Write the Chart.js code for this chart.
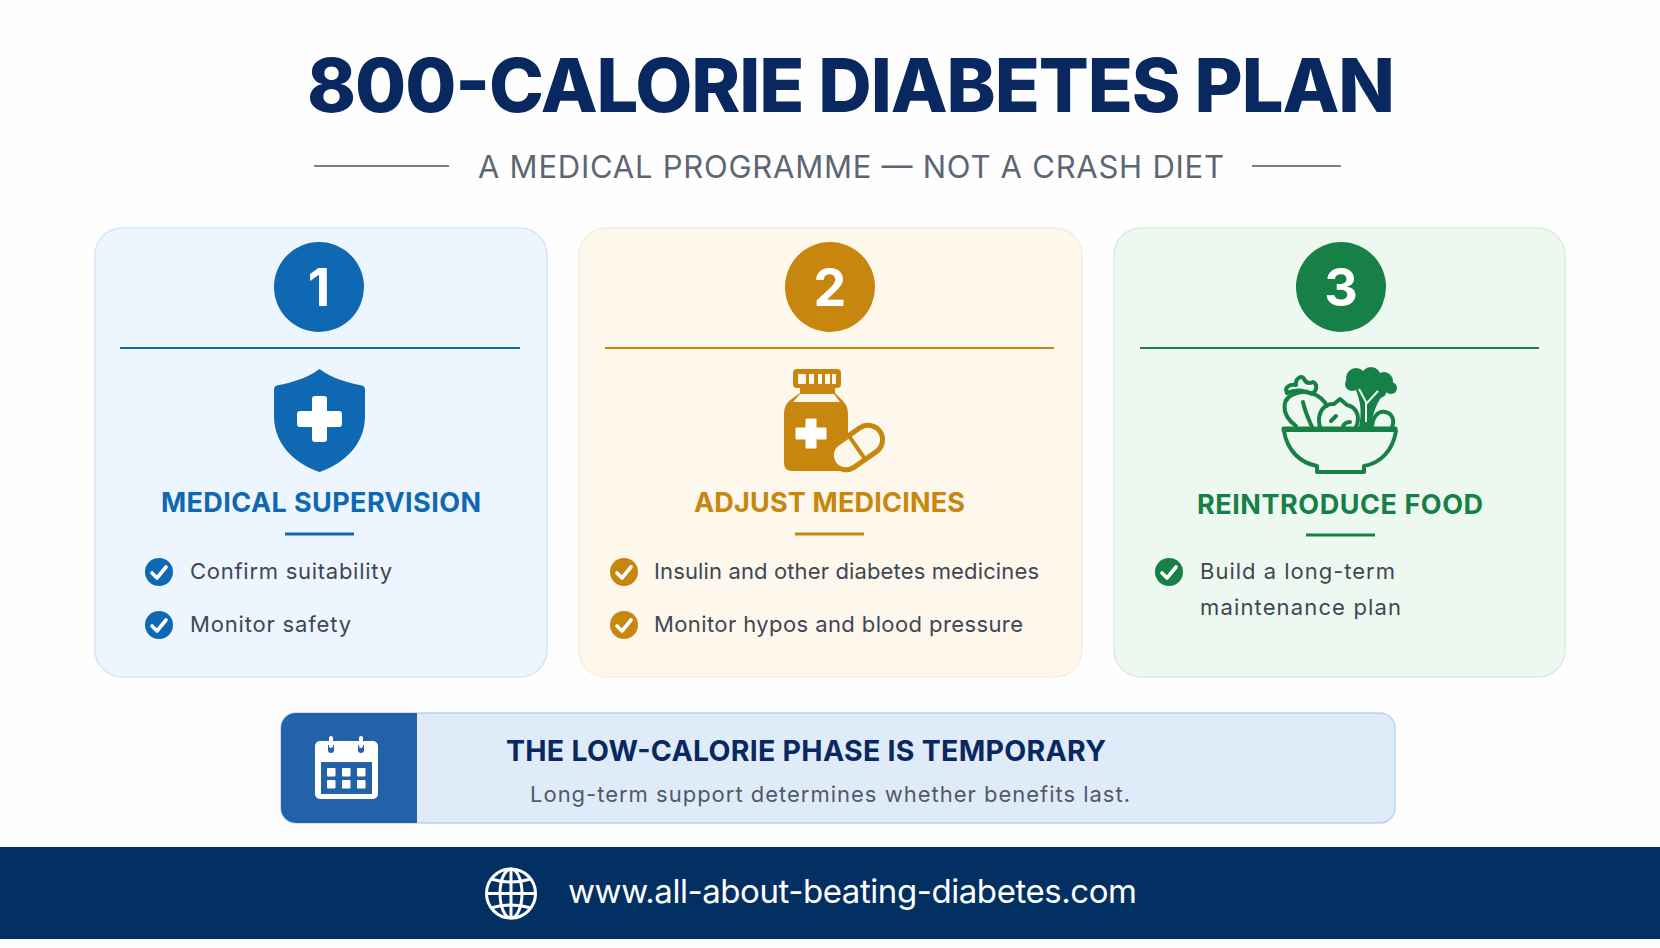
<!DOCTYPE html>
<html lang="en">
<head>
<meta charset="utf-8">
<title>800-Calorie Diabetes Plan</title>
<script src="https://cdn.jsdelivr.net/npm/chart.js@4"></script>
<style>
    html, body { margin: 0; padding: 0; background: #fefefe; }
    #page { position: relative; width: 1660px; height: 948px; overflow: hidden; font-family: Inter, sans-serif; }
    #art, #chartPasos { position: absolute; left: 0; top: 0; }
    #chartPasos { pointer-events: none; }
</style>
</head>
<body>
<div id="page">
    <svg id="art" width="1660" height="948" viewBox="0 0 1660 948" xmlns="http://www.w3.org/2000/svg"></svg>
    <canvas id="chartPasos" width="1660" height="948"></canvas>
</div>
<script>
// =========================================================================
// CONTENT
// =========================================================================
const pageTitle = '800-CALORIE DIABETES PLAN';
const pageSubtitle = 'A MEDICAL PROGRAMME — NOT A CRASH DIET';
const stepNumbers = ['1', '2', '3'];
const stepRow = [1, 1, 1];
const stepTitles = ['MEDICAL SUPERVISION', 'ADJUST MEDICINES', 'REINTRODUCE FOOD'];
const stepItems = [
    ['Confirm suitability', 'Monitor safety'],
    ['Insulin and other diabetes medicines', 'Monitor hypos and blood pressure'],
    ['Build a long-term', 'maintenance plan']
];
const bannerTitle = 'THE LOW-CALORIE PHASE IS TEMPORARY';
const bannerText = 'Long-term support determines whether benefits last.';
const footerUrl = 'www.all-about-beating-diabetes.com';

// =========================================================================
// STYLE AND LAYOUT
// =========================================================================
const NAVY = '#0a2860';
const stepColors = ['#0f68b2', '#c7860e', '#178046'];
const cardFills = ['#edf5fe', '#fef7ec', '#edf8f1'];
const cardBorders = ['#d6e5f7', '#f8ecdb', '#d9ecdf'];

const cards = [
    { left: 95, right: 547, cx: 319, ruleL: 120, ruleR: 520, titleX: 161, titleW: 320, titleY: 512, shortY: 534, checkX: 159, textX: 190, widths: [202, 161], checks: [572, 625], lines: [579, 632] },
    { left: 579, right: 1082, cx: 829, ruleL: 605, ruleR: 1054, titleX: 694, titleW: 271, titleY: 512, shortY: 534, checkX: 624, textX: 654, widths: [385, 369], checks: [572, 625], lines: [579, 632] },
    { left: 1114, right: 1565, cx: 1340, ruleL: 1140, ruleR: 1539, titleX: 1197, titleW: 286, titleY: 514, shortY: 535, checkX: 1169, textX: 1200, widths: [195, 201], checks: [572], lines: [579, 615] }
];

// =========================================================================
// SVG HELPERS
// =========================================================================
function texto(str, x, y, size, weight, fill, width) {
    return `<text x="${x}" y="${y}" font-family="Inter, sans-serif" font-size="${size}" font-weight="${weight}" fill="${fill}" textLength="${width}" lengthAdjust="spacing">${str}</text>`;
}

function check(cx, cy, color) {
    return `<circle cx="${cx}" cy="${cy}" r="14" fill="${color}"/>` +
        `<polyline points="${cx - 7},${cy + 1} ${cx - 2},${cy + 6} ${cx + 7},${cy - 5}" fill="none" stroke="#fff" stroke-width="3.6" stroke-linecap="round" stroke-linejoin="round"/>`;
}

function iconShield(c) {
    return `<path d="M319.5 369 C333 379 349 383 362 385.5 Q365 386 365 390 L365 416 C365 444 345 463 319.5 472 C294 463 274 444 274 416 L274 390 Q274 386 277 385.5 C290 383 306 379 319.5 369 Z" fill="${c}"/>` +
        `<path d="M312 399 Q312 396 315 396 L324 396 Q327 396 327 399 L327 411 L339 411 Q342 411 342 414 L342 424 Q342 427 339 427 L327 427 L327 439 Q327 442 324 442 L315 442 Q312 442 312 439 L312 427 L300 427 Q297 427 297 424 L297 414 Q297 411 300 411 L312 411 Z" fill="#fff"/>`;
}

function iconBottle(c, bg) {
    const slots = [[798, 8], [809, 5], [818, 4], [825, 5], [832, 4]];
    return `<rect x="793" y="369" width="48" height="19" rx="4" fill="${c}"/>` +
        slots.map(s => `<rect x="${s[0]}" y="374" width="${s[1]}" height="10" fill="${bg}"/>`).join('') +
        `<path d="M800 388 H835 V393 L843 401 Q848 406 848 414 V471 H792 Q784 471 784 463 V414 Q784 406 789 401 L800 393 Z" fill="${c}"/>` +
        `<path d="M800 394 H834 L840 402 H793 Z" fill="${bg}"/>` +
        `<path d="M806 419 H816 V428 H826 V439 H816 V448 H806 V439 H796 V428 H806 Z" fill="#fff" stroke="#fff" stroke-width="1" stroke-linejoin="round"/>` +
        `<g transform="translate(857 447.5) rotate(-35)">` +
        `<rect x="-28" y="-14.5" width="56" height="29" rx="14.5" fill="${bg}" stroke="${c}" stroke-width="5"/>` +
        `<line x1="0" y1="-14.5" x2="0" y2="14.5" stroke="${c}" stroke-width="4"/></g>`;
}

function iconBowl(c, bg) {
    const s = `fill="none" stroke="${c}" stroke-width="4" stroke-linecap="round" stroke-linejoin="round"`;
    const crown = [[1356, 378, 10], [1371, 377, 10], [1384, 381, 9], [1391, 388, 6], [1352, 384, 7], [1366, 386, 10], [1379, 390, 8]];
    return `<path d="M1296 426 C1280 414 1281 397 1297 393 C1307 390 1321 394 1327 406" ${s}/>` +
        `<path d="M1303 402 C1305 412 1309 420 1312 427" ${s}/>` +
        `<path d="M1287 393 C1284 387 1290 384 1296 385 C1295 379 1302 374 1304 379 C1306 383 1309 384 1313 382 C1318 384 1317 391 1312 394 C1305 390 1295 389 1287 393 Z" ${s}/>` +
        `<path d="M1320 427 C1316 412 1325 403 1334 404 L1340 399 L1347 405 C1356 407 1361 416 1356 427" ${s}/>` +
        `<path d="M1331 421 L1336 416 M1343 427 C1344 423 1347 422 1350 422" ${s}/>` +
        crown.map(d => `<circle cx="${d[0]}" cy="${d[1]}" r="${d[2]}" fill="${c}"/>`).join('') +
        `<path d="M1359 427 C1362 412 1361 402 1355 388 L1386 392 C1379 398 1373 410 1371 427 Z" fill="${c}"/>` +
        `<path d="M1366 422 L1366 402 L1359 389 M1366 404 L1378 391" fill="none" stroke="${bg}" stroke-width="2"/>` +
        `<path d="M1372 427 C1373 416 1378 411 1385 412 C1392 413 1395 420 1392 427" ${s}/>` +
        `<rect x="1281.5" y="426.5" width="116" height="5.5" rx="2" fill="${c}"/>` +
        `<path d="M1284 431 C1287 450 1300 463 1317 466 L1317 472 H1364 V466 C1381 463 1393 450 1396 431" ${s}/>`;
}

function iconCalendar() {
    const cols = [327, 342, 357];
    const rows = [768, 780];
    let cells = '';
    rows.forEach(y => cols.forEach(x => { cells += `<rect x="${x}" y="${y}" width="8.5" height="8.5" rx="1" fill="#fff"/>`; }));
    return `<rect x="315" y="741" width="63" height="58" rx="5" fill="#fff"/>` +
        `<rect x="321" y="762" width="51" height="32" fill="#2361a9"/>` + cells +
        [331, 361].map(x => `<path d="M${x - 3} 745 V750 A3 3 0 0 0 ${x + 3} 750 V745" fill="#2361a9"/>` +
            `<line x1="${x}" y1="738" x2="${x}" y2="746" stroke="#fff" stroke-width="4" stroke-linecap="round"/>`).join('');
}

function iconGlobe() {
    return `<g fill="none" stroke="#fff" stroke-width="3">` +
        `<circle cx="511" cy="893.5" r="24.5"/><ellipse cx="511" cy="893.5" rx="11" ry="24.5"/>` +
        `<line x1="511" y1="869" x2="511" y2="918"/><line x1="486.5" y1="893.5" x2="535.5" y2="893.5"/>` +
        `<path d="M491 879 Q511 885 531 879 M491 908 Q511 902 531 908"/></g>`;
}

// =========================================================================
// BUILD THE PAGE
// =========================================================================
function pintarLamina() {
    const iconos = [iconShield, iconBottle, iconBowl];
    let svg = `<rect width="1660" height="948" fill="#fefefe"/>`;

    svg += texto(pageTitle, 307, 112, 74, 800, NAVY, 1088);
    svg += `<rect x="314" y="165" width="135" height="2" fill="#78808c"/><rect x="1252" y="165" width="89" height="2" fill="#78808c"/>`;
    svg += texto(pageSubtitle, 478, 178, 31, 400, '#5d6675', 746);

    cards.forEach((c, i) => {
        const color = stepColors[i];
        svg += `<rect x="${c.left}" y="228" width="${c.right - c.left}" height="449" rx="27" fill="${cardFills[i]}" stroke="${cardBorders[i]}" stroke-width="1.5"/>`;
        svg += `<rect x="${c.ruleL}" y="347" width="${c.ruleR - c.ruleL}" height="2" fill="${color}"/>`;
        svg += iconos[i](color, cardFills[i]);
        svg += texto(stepTitles[i], c.titleX, c.titleY, 27, 700, color, c.titleW);
        svg += `<rect x="${c.cx - 34}" y="${c.shortY - 1.5}" width="69" height="3" fill="${color}"/>`;
        c.checks.forEach(y => { svg += check(c.checkX, y, color); });
        stepItems[i].forEach((item, j) => {
            svg += texto(item, c.textX, c.lines[j], 22, 400, '#3f4753', c.widths[j]);
        });
    });

    // banner
    svg += `<rect x="281" y="713" width="1114" height="110" rx="15" fill="#dfebf9" stroke="#bdd3f0" stroke-width="1.5"/>`;
    svg += `<path d="M417 713 V823 H296 A15 15 0 0 1 281 808 V728 A15 15 0 0 1 296 713 Z" fill="#2361a9"/>`;
    svg += iconCalendar();
    svg += texto(bannerTitle, 506, 761, 28.5, 700, NAVY, 600);
    svg += texto(bannerText, 530, 802, 22, 400, '#525a66', 600);

    // footer
    svg += `<rect x="0" y="847" width="1660" height="92" fill="#033063"/>`;
    svg += iconGlobe();
    svg += texto(footerUrl, 568, 903, 33, 400, '#ffffff', 569);

    document.getElementById('art').innerHTML = svg;
}

// =========================================================================
// NUMBERED BADGES (Chart.js)
// =========================================================================
const numerosPlugin = {
    id: 'numeros',
    afterDatasetsDraw(chart) {
        const ctx = chart.ctx;
        ctx.save();
        ctx.font = '700 52px Inter, sans-serif';
        ctx.fillStyle = '#ffffff';
        ctx.textAlign = 'center';
        ctx.textBaseline = 'alphabetic';
        chart.getDatasetMeta(0).data.forEach((pt, i) => {
            ctx.fillText(stepNumbers[i], pt.x, pt.y + 19);
        });
        ctx.restore();
    }
};

function initChart() {
    new Chart(document.getElementById('chartPasos').getContext('2d'), {
        type: 'line',
        data: {
            labels: stepNumbers,
            datasets: [{
                data: stepRow,
                showLine: false,
                pointRadius: 45,
                pointHoverRadius: 45,
                pointBorderWidth: 0,
                pointBackgroundColor: stepColors
            }]
        },
        options: {
            responsive: false,
            animation: false,
            clip: false,
            layout: { padding: { left: 319, right: 319, top: 187, bottom: 561 } },
            plugins: { legend: { display: false }, tooltip: { enabled: false } },
            scales: {
                x: { display: false },
                y: { display: false, min: 0, max: 2 }
            }
        },
        plugins: [numerosPlugin]
    });
}

pintarLamina();
initChart();
</script>
</body>
</html>
